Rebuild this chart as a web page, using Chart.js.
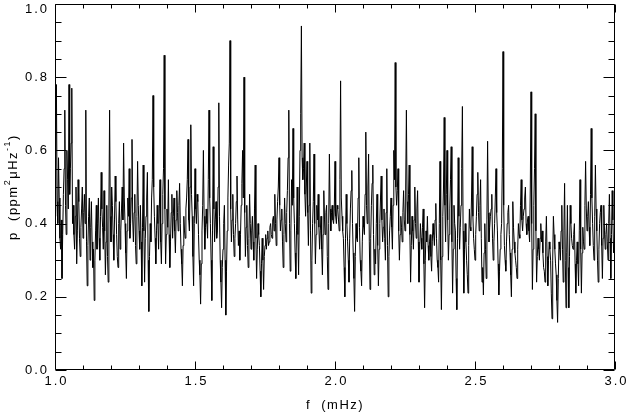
<!DOCTYPE html>
<html>
<head>
<meta charset="utf-8">
<script src="https://cdn.jsdelivr.net/npm/chart.js@4/dist/chart.umd.min.js"></script>
<style>
html,body{margin:0;padding:0;background:#fff;}
#wrap{width:626px;height:418px;position:relative;}
</style>
</head>
<body>
<div id="wrap"><canvas id="c" width="626" height="418"></canvas></div>
<script>
// Frequency grid (mHz): start and spacing of the spectrum samples
const fStart = 1.0;
const fStep = 0.0025;

// Power density p (ppm^2 uHz^-1), read/, one value per frequency bin
const power = [
0.42,0.55,0.78,0.46,0.40,0.58,0.47,0.36,0.33,0.41,0.25,0.37,0.48,0.55,0.71,0.45,0.37,0.60,0.52,0.44,
0.78,0.48,0.55,0.62,0.77,0.40,0.45,0.37,0.33,0.42,0.50,0.29,0.38,0.52,0.46,0.36,0.31,0.39,0.44,0.50,
0.36,0.43,0.48,0.40,0.71,0.35,0.23,0.34,0.42,0.47,0.30,0.39,0.46,0.35,0.28,0.33,0.19,0.30,0.38,0.45,
0.33,0.40,0.47,0.36,0.30,0.42,0.54,0.44,0.39,0.33,0.49,0.38,0.26,0.35,0.45,0.31,0.24,0.44,0.71,0.42,
0.35,0.50,0.45,0.37,0.30,0.41,0.53,0.46,0.37,0.31,0.28,0.40,0.46,0.33,0.38,0.44,0.50,0.41,0.62,0.47,
0.40,0.32,0.25,0.38,0.47,0.42,0.55,0.36,0.40,0.47,0.63,0.41,0.35,0.43,0.48,0.34,0.29,0.42,0.57,0.45,
0.38,0.33,0.45,0.35,0.23,0.39,0.56,0.38,0.24,0.36,0.42,0.47,0.54,0.30,0.16,0.31,0.40,0.35,0.47,0.52,
0.75,0.50,0.42,0.36,0.29,0.38,0.45,0.40,0.33,0.44,0.52,0.35,0.29,0.40,0.48,0.55,0.86,0.44,0.29,0.37,
0.44,0.39,0.52,0.37,0.28,0.35,0.43,0.48,0.36,0.42,0.47,0.38,0.32,0.41,0.49,0.43,0.38,0.45,0.51,0.40,
0.33,0.29,0.23,0.34,0.42,0.38,0.36,0.44,0.47,0.52,0.63,0.41,0.38,0.50,0.67,0.48,0.42,0.31,0.23,0.40,
0.55,0.44,0.40,0.48,0.46,0.37,0.30,0.26,0.18,0.29,0.38,0.45,0.60,0.42,0.33,0.39,0.44,0.40,0.36,0.52,
0.71,0.47,0.40,0.30,0.19,0.38,0.61,0.44,0.35,0.41,0.46,0.36,0.38,0.50,0.73,0.42,0.30,0.24,0.17,0.28,
0.33,0.40,0.45,0.30,0.15,0.27,0.38,0.47,0.56,0.62,0.90,0.44,0.35,0.41,0.48,0.37,0.31,0.36,0.40,0.46,
0.53,0.41,0.34,0.38,0.30,0.37,0.45,0.51,0.60,0.47,0.80,0.43,0.31,0.39,0.45,0.34,0.28,0.36,0.48,0.40,
0.33,0.38,0.42,0.35,0.30,0.44,0.56,0.36,0.25,0.33,0.40,0.37,0.34,0.27,0.20,0.29,0.36,0.30,0.22,0.31,
0.34,0.37,0.33,0.36,0.38,0.34,0.35,0.39,0.40,0.37,0.36,0.41,0.42,0.38,0.48,0.40,0.34,0.41,0.46,0.50,
0.58,0.45,0.38,0.41,0.44,0.35,0.28,0.37,0.47,0.40,0.35,0.43,0.49,0.58,0.71,0.40,0.27,0.38,0.52,0.45,
0.66,0.47,0.40,0.32,0.25,0.38,0.50,0.37,0.26,0.42,0.60,0.70,0.94,0.58,0.52,0.55,0.62,0.48,0.42,0.50,
0.57,0.43,0.34,0.45,0.62,0.38,0.21,0.30,0.40,0.46,0.59,0.40,0.29,0.37,0.45,0.41,0.48,0.39,0.33,0.38,
0.42,0.33,0.26,0.37,0.49,0.41,0.37,0.43,0.45,0.31,0.22,0.40,0.59,0.44,0.38,0.43,0.45,0.41,0.40,0.44,
0.57,0.42,0.40,0.45,0.44,0.41,0.38,0.52,0.79,0.47,0.42,0.38,0.36,0.28,0.20,0.36,0.48,0.40,0.35,0.30,
0.24,0.36,0.44,0.49,0.545,0.40,0.32,0.25,0.16,0.31,0.40,0.36,0.35,0.47,0.58,0.39,0.30,0.27,0.23,0.35,
0.42,0.39,0.37,0.48,0.65,0.45,0.40,0.50,0.59,0.35,0.22,0.36,0.45,0.51,0.56,0.37,0.26,0.33,0.29,0.40,
0.48,0.34,0.23,0.33,0.40,0.47,0.53,0.41,0.35,0.39,0.44,0.36,0.30,0.43,0.55,0.34,0.20,0.31,0.38,0.42,
0.47,0.39,0.33,0.45,0.60,0.52,0.84,0.50,0.45,0.49,0.55,0.38,0.30,0.37,0.42,0.39,0.35,0.43,0.49,0.41,
0.38,0.50,0.71,0.46,0.40,0.48,0.56,0.37,0.24,0.34,0.42,0.38,0.33,0.41,0.50,0.40,0.36,0.44,0.49,0.35,
0.24,0.33,0.40,0.36,0.33,0.39,0.44,0.29,0.17,0.30,0.38,0.35,0.42,0.34,0.30,0.35,0.37,0.31,0.27,0.35,
0.40,0.37,0.34,0.41,0.455,0.36,0.30,0.28,0.24,0.40,0.57,0.30,0.165,0.31,0.42,0.50,0.69,0.45,0.35,0.48,
0.60,0.41,0.30,0.37,0.44,0.52,0.61,0.35,0.21,0.33,0.45,0.40,0.38,0.25,0.165,0.36,0.58,0.42,0.33,0.39,
0.45,0.55,0.72,0.38,0.21,0.33,0.40,0.35,0.30,0.26,0.21,0.34,0.44,0.39,0.38,0.47,0.61,0.42,0.36,0.33,
0.30,0.37,0.42,0.48,0.54,0.43,0.38,0.45,0.52,0.36,0.24,0.28,0.205,0.32,0.40,0.33,0.25,0.41,0.625,0.43,
0.35,0.39,0.42,0.44,0.48,0.36,0.30,0.35,0.40,0.47,0.55,0.43,0.38,0.29,0.205,0.27,0.33,0.37,0.40,0.55,
0.87,0.45,0.34,0.30,0.27,0.35,0.40,0.43,0.45,0.37,0.32,0.26,0.20,0.33,0.46,0.39,0.35,0.32,0.30,0.28,
0.25,0.33,0.40,0.37,0.36,0.45,0.52,0.41,0.38,0.42,0.44,0.47,0.50,0.40,0.37,0.41,0.42,0.38,0.35,0.50,
0.76,0.40,0.22,0.33,0.45,0.55,0.70,0.38,0.24,0.31,0.36,0.33,0.30,0.36,0.40,0.35,0.38,0.32,0.28,0.27,
0.24,0.35,0.42,0.31,0.23,0.30,0.35,0.33,0.30,0.21,0.14,0.30,0.42,0.37,0.33,0.29,0.26,0.19,0.13,0.25,
0.35,0.33,0.30,0.38,0.45,0.33,0.24,0.38,0.51,0.30,0.17,0.32,0.45,0.28,0.17,0.31,0.45,0.40,0.36,0.34,
0.33,0.37,0.40,0.29,0.21,0.30,0.35,0.29,0.23,0.38,0.52,0.33,0.21,0.32,0.39,0.35,0.33,0.45,0.57,0.44,
0.38,0.42,0.46,0.39,0.34,0.48,0.66,0.47,0.40,0.34,0.30,0.42,0.56,0.44,0.38,0.30,0.24,0.33,0.40,0.43,
0.45,0.34,0.25,0.36,0.45,0.38,0.33,0.37,0.40,0.35,0.30,0.40,0.48,0.36,0.25,0.37,0.49,0.41,0.32,0.35,
0.38
];

// Axis tick definitions and titles
const xMajorTicks = [1.0, 1.5, 2.0, 2.5, 3.0];
const yMajorTicks = [0.0, 0.2, 0.4, 0.6, 0.8, 1.0];
const xMinorStep = 0.1;
const yMinorStep = 0.05;
const xTitle = [{t: 'f  (mHz)'}];
const yTitle = [{t: 'p  (ppm'}, {t: '2', sup: true}, {t: 'μHz'}, {t: '-1', sup: true}, {t: ')'}];

const freqs = power.map((_, i) => +(fStart + i * fStep).toFixed(4));
const points = freqs.map((f, i) => ({x: f, y: power[i]}));

const FAM = "'Liberation Sans', Arial, sans-serif";
const MAIN = '13px ' + FAM;
const SUP = '9px ' + FAM;

function richWidth(ctx, segs) {
  let w = 0;
  for (const s of segs) { ctx.font = s.sup ? SUP : MAIN; w += ctx.measureText(s.t).width; }
  return w;
}
function drawRich(ctx, segs, cx, cy) {
  const w = richWidth(ctx, segs);
  let x = cx - w / 2;
  ctx.textAlign = 'left';
  ctx.textBaseline = 'middle';
  for (const s of segs) {
    ctx.font = s.sup ? SUP : MAIN;
    ctx.fillText(s.t, x, s.sup ? cy - 5 : cy);
    x += ctx.measureText(s.t).width;
  }
}

const frameTicks = {
  id: 'frameTicks',
  afterDraw(chart) {
    const ctx = chart.ctx;
    const xs = chart.scales.x, ys = chart.scales.y;
    const a = chart.chartArea;
    const L = Math.round(a.left) + 0.5, R = Math.round(a.right) - 0.5;
    const T = Math.round(a.top) + 0.5, B = Math.round(a.bottom) - 0.5;
    ctx.save();
    ctx.strokeStyle = '#000';
    ctx.lineWidth = 1;
    ctx.beginPath();
    ctx.rect(L, T, R - L, B - T);
    ctx.stroke();
    ctx.beginPath();
    const nx = Math.round((xs.max - xs.min) / xMinorStep);
    for (let i = 0; i <= nx; i++) {
      const v = xs.min + i * xMinorStep;
      const major = xMajorTicks.some(t => Math.abs(t - v) < 1e-6);
      const len = major ? 8 : 4;
      const px = Math.round(xs.getPixelForValue(v)) + 0.5;
      ctx.moveTo(px, B); ctx.lineTo(px, B - len);
      ctx.moveTo(px, T); ctx.lineTo(px, T + len);
    }
    const ny = Math.round((ys.max - ys.min) / yMinorStep);
    for (let i = 0; i <= ny; i++) {
      const v = ys.min + i * yMinorStep;
      const major = yMajorTicks.some(t => Math.abs(t - v) < 1e-6);
      const len = major ? 11 : 6;
      const py = Math.round(ys.getPixelForValue(v)) + 0.5;
      ctx.moveTo(L, py); ctx.lineTo(L + len, py);
      ctx.moveTo(R, py); ctx.lineTo(R - len, py);
    }
    ctx.stroke();

    // tick labels
    ctx.fillStyle = '#000';
    ctx.letterSpacing = '2px';
    ctx.font = MAIN;
    ctx.textBaseline = 'middle';
    ctx.textAlign = 'center';
    for (const v of xMajorTicks) {
      ctx.fillText(v.toFixed(1), xs.getPixelForValue(v) + 1.5, 381);
    }
    ctx.textAlign = 'right';
    for (const v of yMajorTicks) {
      const py = Math.max(ys.getPixelForValue(v), 9);
      ctx.fillText(v.toFixed(1), 49, py);
    }
    // axis titles
    ctx.letterSpacing = '1.5px';
    drawRich(ctx, xTitle, (a.left + a.right) / 2, 405);
    ctx.save();
    ctx.translate(13, (a.top + a.bottom) / 2);
    ctx.rotate(-Math.PI / 2);
    drawRich(ctx, yTitle, 0, 0);
    ctx.restore();
    ctx.restore();
  }
};

new Chart(document.getElementById('c'), {
  type: 'line',
  data: {
    datasets: [{
      data: points,
      borderColor: '#000',
      borderWidth: 1,
      pointRadius: 0,
      tension: 0,
      fill: false
    }]
  },
  options: {
    responsive: false,
    animation: false,
    devicePixelRatio: 1,
    layout: {padding: {top: 4, right: 11, left: 0, bottom: 0}},
    plugins: {legend: {display: false}, tooltip: {enabled: false}},
    scales: {
      x: {
        type: 'linear',
        min: 1.0, max: 3.0,
        afterFit: s => { s.height = 48; },
        grid: {display: false, drawTicks: false},
        border: {display: false},
        ticks: {display: false}
      },
      y: {
        type: 'linear',
        min: 0.0, max: 1.0,
        afterFit: s => { s.width = 55; },
        grid: {display: false, drawTicks: false},
        border: {display: false},
        ticks: {display: false}
      }
    }
  },
  plugins: [frameTicks]
});
</script>
</body>
</html>
